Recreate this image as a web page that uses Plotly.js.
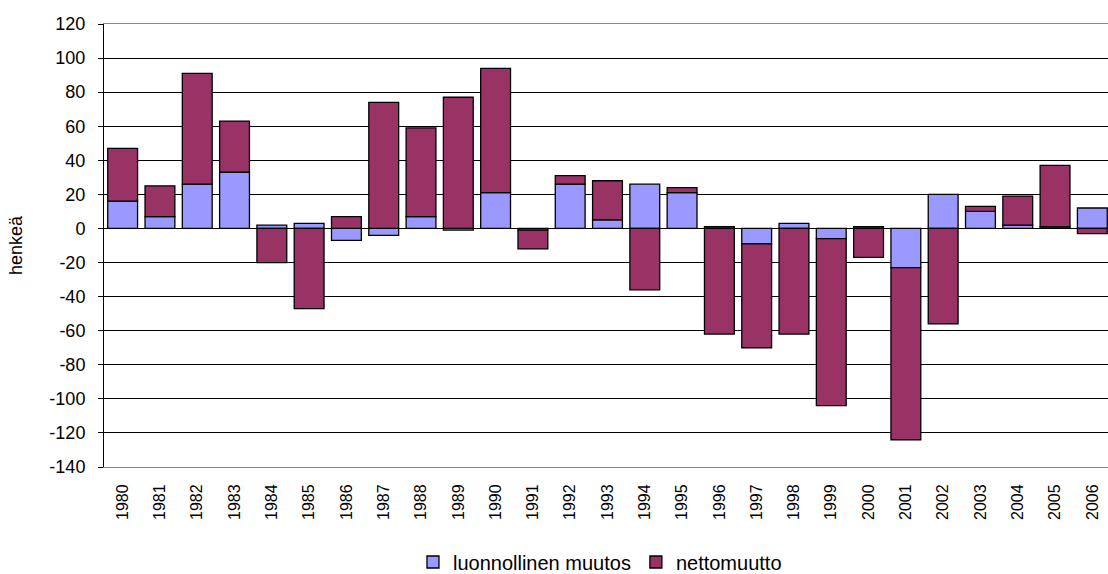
<!DOCTYPE html>
<html>
<head>
<meta charset="utf-8">
<script src="https://cdn.plot.ly/plotly-3.0.1.min.js"></script>
<style>html,body{margin:0;padding:0;background:#fff;}#chart{width:1108px;height:574px;}</style>
</head>
<body>
<div id="chart"></div>
<script>
const years = ['1980','1981','1982','1983','1984','1985','1986','1987','1988','1989','1990','1991','1992','1993','1994','1995','1996','1997','1998','1999','2000','2001','2002','2003','2004','2005','2006'];
const luonnollinen = [16, 7, 26, 33, 2, 3, -7, -4, 7, -1, 21, -1, 26, 5, 26, 21, 1, -9, 3, -6, 1, -23, 20, 10, 2, 1, 12];
const nettomuutto = [31, 18, 65, 30, -20, -47, 7, 74, 52, 77, 73, -11, 5, 23, -36, 3, -62, -61, -62, -98, -17, -101, -56, 3, 17, 36, -3];
const seriesNames = ['luonnollinen muutos', 'nettomuutto'];
const yTicks = [-140, -120, -100, -80, -60, -40, -20, 0, 20, 40, 60, 80, 100, 120];
const yTickLabels = ['-140', '-120', '-100', '-80', '-60', '-40', '-20', '0', '20', '40', '60', '80', '100', '120'];

const FONT = '"Liberation Sans", Arial, sans-serif';

const traces = [
  {type: 'bar', x: years, y: luonnollinen, name: seriesNames[0],
   marker: {color: '#9999FF', line: {color: '#000', width: 1.3}}},
  {type: 'bar', x: years, y: nettomuutto, name: seriesNames[1],
   marker: {color: '#993366', line: {color: '#000', width: 1.3}}}
];

const layout = {
  width: 1108, height: 574,
  margin: {l: 104, r: 0, t: 24, b: 107, pad: 0, autoexpand: false},
  paper_bgcolor: '#fff', plot_bgcolor: '#fff',
  font: {family: FONT, size: 18, color: '#000'},
  barmode: 'relative',
  bargap: 0.2,
  showlegend: true,
  legend: {orientation: 'h', xref: 'container', yref: 'container',
           x: 0.5415, xanchor: 'center', y: 1 - 562/574, yanchor: 'middle',
           traceorder: 'normal', font: {family: FONT, size: 20, color: '#000'},
           itemwidth: 30, tracegroupgap: 0, bgcolor: 'rgba(0,0,0,0)'},
  xaxis: {type: 'category', categoryarray: years, range: [-0.5, 26.42],
          tickangle: -90, tickfont: {family: FONT, size: 16, color: '#000'},
          ticks: '', ticklabelstandoff: 10, automargin: false,
          showline: true, linecolor: '#888', linewidth: 1, mirror: true,
          showgrid: false, zeroline: false, fixedrange: true},
  xaxis2: {overlaying: 'x', anchor: 'free', position: 140/260, side: 'bottom',
           range: [-0.5, 26.42], tickmode: 'linear', tick0: -0.5, dtick: 1,
           ticks: 'outside', ticklen: 5, tickcolor: '#000', tickwidth: 1, automargin: false,
           showticklabels: false, showgrid: false, zeroline: false, showline: false},
  yaxis: {range: [-140, 120], tickvals: yTicks, ticktext: yTickLabels, ticks: 'outside', ticklen: 5,
          tickcolor: '#000', tickfont: {family: FONT, size: 18, color: '#000'},
          ticklabelstandoff: 9,
          showline: true, linecolor: '#000', linewidth: 1, automargin: false,
          showgrid: true, gridcolor: '#000', gridwidth: 1,
          zeroline: true, zerolinecolor: '#000', zerolinewidth: 1,
          title: {text: 'henkeä', font: {family: FONT, size: 18, color: '#000'}, standoff: 22},
          fixedrange: true}
};

Plotly.newPlot('chart', traces, layout, {displayModeBar: false, staticPlot: true});
</script>
</body>
</html>
